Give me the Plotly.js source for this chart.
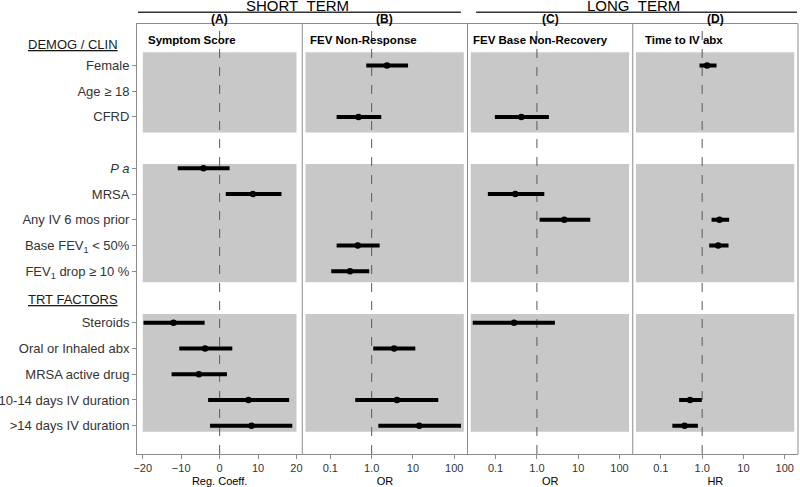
<!DOCTYPE html>
<html>
<head>
<meta charset="utf-8">
<script src="https://cdn.plot.ly/plotly-3.0.1.min.js"></script>
<style>
  html, body { margin: 0; padding: 0; background: #fff; }
  #plot { width: 800px; height: 487px; }
</style>
</head>
<body>
<div id="plot"></div>
<script>
document.addEventListener("DOMContentLoaded", function(event) {

  // rows, top to bottom
  const rowLabels = [
    'Female',
    'Age \u2265 18',
    'CFRD',
    '<i>P a</i>',
    'MRSA',
    'Any IV 6 mos prior',
    'Base FEV<sub>1</sub> &lt; 50%',
    'FEV<sub>1</sub> drop \u2265 10 %',
    'Steroids',
    'Oral or Inhaled abx',
    'MRSA active drug',
    '10-14 days IV duration',
    '&gt;14 days IV duration'
  ];
  const rowY = [15, 14, 13, 11, 10, 9, 8, 7, 5, 4, 3, 2, 1];

  const panelNames = ['Symptom Score', 'FEV Non-Response', 'FEV Base Non-Recovery', 'Time to IV abx'];
  const panelTags = ['(A)', '(B)', '(C)', '(D)'];
  const axisTitles = ['Reg. Coeff.', 'OR', 'OR', 'HR'];
  const logTicks = [0.1, 1, 10, 100];
  const logTickText = ['0.1', '1.0', '10', '100'];
  const linTicks = [-20, -10, 0, 10, 20];

  // (A) Symptom score, regression coefficient
  const symptomEst = [null, null, null, -4.2, 8.7, null, null, null, -12.0, -3.8, -5.4, 7.5, 8.3];
  const symptomLo  = [null, null, null, -10.9, 1.6, null, null, null, -19.8, -10.5, -12.5, -3.0, -2.5];
  const symptomHi  = [null, null, null, 2.6, 16.1, null, null, null, -3.9, 3.3, 1.9, 18.1, 18.9];

  // (B) FEV non-response, OR
  const nonRespEst = [2.35, null, 0.48, null, null, null, 0.46, 0.30, null, 3.5, null, 4.1, 14.2];
  const nonRespLo  = [0.74, null, 0.142, null, null, null, 0.142, 0.105, null, 1.09, null, 0.40, 1.45];
  const nonRespHi  = [7.6, null, 1.71, null, null, null, 1.56, 0.875, null, 11.4, null, 41, 145];

  // (C) FEV base non-recovery, OR
  const nonRecEst = [null, null, 0.42, null, 0.30, 4.6, null, null, 0.28, null, null, null, null];
  const nonRecLo  = [null, null, 0.096, null, 0.065, 1.16, null, null, 0.028, null, null, null, null];
  const nonRecHi  = [null, null, 1.95, null, 1.51, 19.6, null, null, 2.73, null, null, null, null];

  // (D) Time to IV abx, HR
  const timeEst = [1.32, null, null, null, null, 2.63, 2.44, null, null, null, null, 0.51, 0.375];
  const timeLo  = [0.865, null, null, null, null, 1.69, 1.48, null, null, null, null, 0.277, 0.19];
  const timeHi  = [2.23, null, null, null, null, 4.5, 4.35, null, null, null, null, 0.98, 0.79];

  const makeTrace = (est, lo, hi, xaxis) => {
    const x = [], y = [], plus = [], minus = [];
    est.forEach(function(v, i) {
      if (v === null) return;
      x.push(v);
      y.push(rowY[i]);
      plus.push(hi[i] - v);
      minus.push(v - lo[i]);
    });
    return {
      x: x, y: y,
      xaxis: xaxis, yaxis: 'y',
      type: 'scatter', mode: 'markers',
      marker: {color: '#000', size: 6.5},
      error_x: {type: 'data', symmetric: false, array: plus, arrayminus: minus,
                width: 0, thickness: 4, color: '#000'},
      showlegend: false, hoverinfo: 'x+y'
    };
  };

  const data = [
    makeTrace(symptomEst, symptomLo, symptomHi, 'x'),
    makeTrace(nonRespEst, nonRespLo, nonRespHi, 'x2'),
    makeTrace(nonRecEst, nonRecLo, nonRecHi, 'x3'),
    makeTrace(timeEst, timeLo, timeHi, 'x4')
  ];

  const frame = '#8c8c8c';
  const f = 'Liberation Sans, Arial, sans-serif';
  const tickFont = {family: f, size: 11, color: '#333'};
  const titleFont = {family: f, size: 11, color: '#000'};

  const xBase = (i) => ({
    domain: [i * 0.25, (i + 1) * 0.25],
    anchor: 'y',
    showgrid: false, zeroline: false,
    showline: true, mirror: true, linecolor: frame, linewidth: 1,
    ticks: 'outside', ticklen: 4, tickcolor: frame,
    tickfont: tickFont,
    title: {text: axisTitles[i], font: titleFont, standoff: 7},
    fixedrange: true
  });

  const xaxis = Object.assign(xBase(0), {range: [-21.5, 21.5], tickvals: linTicks});
  const logAxes = [1, 2, 3].map(function(i) {
    return Object.assign(xBase(i), {
      type: 'log', range: [-1.68, 2.32],
      tickvals: logTicks, ticktext: logTickText
    });
  });

  const yRange = [-0.1, 16.61];

  // shaded blocks (y extents) and panel x extents
  const blocks = [[12.39, 15.51], [6.575, 11.165], [0.765, 5.34]];
  const axIds = ['x', 'x2', 'x3', 'x4'];
  const shadeX = [[-20, 20], [0.025, 170], [0.025, 170], [0.025, 170]];
  const refLine = [0, 1, 1, 1];

  const shapes = [];
  axIds.forEach(function(ax, i) {
    blocks.forEach(function(b) {
      shapes.push({type: 'rect', xref: ax, yref: 'y', x0: shadeX[i][0], x1: shadeX[i][1],
                   y0: b[0], y1: b[1], fillcolor: '#c8c8c8', line: {width: 0}, layer: 'below'});
    });
  });
  axIds.forEach(function(ax, i) {
    shapes.push({type: 'line', xref: ax, yref: 'y', x0: refLine[i], x1: refLine[i], y0: yRange[0], y1: yRange[1],
                 line: {color: '#5a5a5a', width: 1, dash: 'dash'}, layer: 'below'});
  });
  [0.25, 0.5, 0.75, 1].forEach(function(px) {
    shapes.push({type: 'line', xref: 'paper', yref: 'paper', x0: px, x1: px, y0: 0, y1: 1,
                 line: {color: frame, width: 1}});
  });
  // group underlines
  shapes.push({type: 'line', xref: 'paper', yref: 'paper', x0: 0.0015, x1: 0.490, y0: 1.0272, y1: 1.0272,
               line: {color: '#333', width: 1.5}});
  shapes.push({type: 'line', xref: 'paper', yref: 'paper', x0: 0.513, x1: 0.9985, y0: 1.0272, y1: 1.0272,
               line: {color: '#333', width: 1.5}});

  const annotations = [];
  annotations.push({text: 'SHORT\u00a0\u00a0TERM', xref: 'paper', yref: 'paper', x: 0.2428, y: 1.0435,
                    xanchor: 'center', yanchor: 'middle', showarrow: false, font: {family: f, size: 15, color: '#000'}});
  annotations.push({text: 'LONG\u00a0\u00a0TERM', xref: 'paper', yref: 'paper', x: 0.7504, y: 1.0435,
                    xanchor: 'center', yanchor: 'middle', showarrow: false, font: {family: f, size: 15, color: '#000'}});
  const titleX = [0.0132, 0.2582, 0.5053, 0.7650];
  panelTags.forEach(function(t, i) {
    annotations.push({text: '<b>' + t + '</b>', xref: 'paper', yref: 'paper', x: 0.125 + 0.25 * i, y: 1.0105,
                      xanchor: 'center', yanchor: 'middle', showarrow: false, font: {family: f, size: 12, color: '#000'}});
    annotations.push({text: '<b>' + panelNames[i] + '</b>', xref: 'paper', yref: 'paper', x: titleX[i], y: 0.9628,
                      xanchor: 'left', yanchor: 'middle', showarrow: false, font: {family: f, size: 11.5, color: '#000'}});
  });
  annotations.push({text: '<u>DEMOG / CLIN</u>', xref: 'paper', yref: 'y', x: -0.0257, y: 15.8,
                    xanchor: 'right', yanchor: 'middle', showarrow: false, font: {family: f, size: 13, color: '#1a1a1a'}});
  annotations.push({text: '<u>TRT FACTORS</u>', xref: 'paper', yref: 'y', x: -0.0257, y: 5.89,
                    xanchor: 'right', yanchor: 'middle', showarrow: false, font: {family: f, size: 13, color: '#1a1a1a'}});

  const layout = {
    width: 800, height: 487,
    margin: {l: 137, r: 2, t: 24, b: 33},
    paper_bgcolor: '#fff', plot_bgcolor: '#fff',
    xaxis: xaxis, xaxis2: logAxes[0], xaxis3: logAxes[1], xaxis4: logAxes[2],
    yaxis: {
      range: yRange, tickvals: rowY, ticktext: rowLabels,
      showgrid: false, zeroline: false,
      showline: true, linecolor: frame, linewidth: 1,
      ticks: 'outside', ticklen: 4, tickcolor: frame,
      tickfont: {family: f, size: 13, color: '#333'},
      fixedrange: true
    },
    shapes: shapes,
    annotations: annotations,
    showlegend: false
  };

  Plotly.newPlot('plot', data, layout, {displayModeBar: false, staticPlot: true});
});
</script>
</body>
</html>
